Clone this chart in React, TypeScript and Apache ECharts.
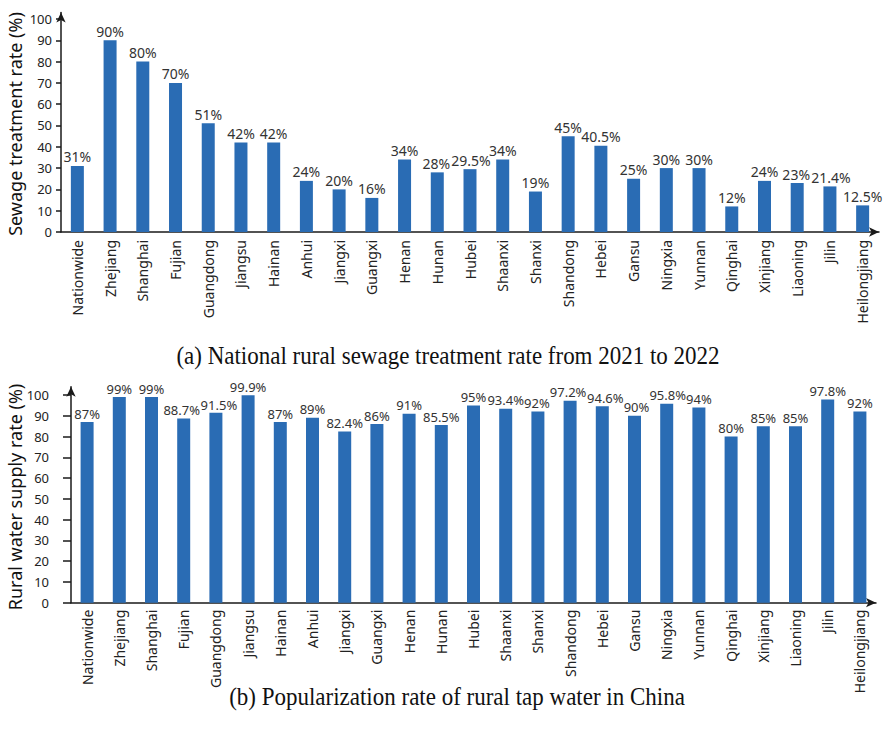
import React, { useEffect, useRef } from "react";
import * as echarts from "echarts";

// Provinces in display order (shared by both panels)
const categories = [
  "Nationwide", "Zhejiang", "Shanghai", "Fujian", "Guangdong", "Jiangsu", "Hainan",
  "Anhui", "Jiangxi", "Guangxi", "Henan", "Hunan", "Hubei", "Shaanxi", "Shanxi",
  "Shandong", "Hebei", "Gansu", "Ningxia", "Yunnan", "Qinghai", "Xinjiang",
  "Liaoning", "Jilin", "Heilongjiang",
];

// (a) rural sewage treatment rate, %
const sewageRates = [
  31, 90, 80, 70, 51, 42, 42, 24, 20, 16, 34, 28, 29.5, 34, 19, 45, 40.5, 25, 30, 30,
  12, 24, 23, 21.4, 12.5,
];

// (b) rural tap water supply rate, %
const tapWaterRates = [
  87, 99, 99, 88.7, 91.5, 99.9, 87, 89, 82.4, 86, 91, 85.5, 95, 93.4, 92, 97.2, 94.6,
  90, 95.8, 94, 80, 85, 85, 97.8, 92,
];

const yTickValues = [0, 10, 20, 30, 40, 50, 60, 70, 80, 90, 100];

const captionA = "(a) National rural sewage treatment rate from 2021 to 2022";
const captionB = "(b) Popularization rate of rural tap water in China";
const yNameA = "Sewage treatment rate (%)";
const yNameB = "Rural water supply rate (%)";

const SANS = "'Noto Sans', 'Open Sans', sans-serif";
const SERIF = "'Liberation Serif', 'Times New Roman', serif";
const BAR = "#2a6cb4";
const AXIS = "#1a1a1a";

// Small nudges for crowded value labels, keyed by category index
const labelNudgeA: Record<number, number[]> = {
  11: [-1, 0],
  12: [1, 0],
  22: [-1, 0],
  23: [1, 0],
};
const labelNudgeB: Record<number, number[]> = {
  3: [-2, 0],
  4: [3, 1],
  14: [-1, 0],
  15: [-2, 0],
  16: [3, 0],
  17: [2, 0],
  18: [1, 0],
};

function xAxisFor(gridIndex: number, margin: number) {
  return {
    type: "category",
    gridIndex,
    data: categories,
    boundaryGap: true,
    axisLine: {
      show: true,
      symbol: ["none", "arrow"],
      symbolSize: [7, 10],
      lineStyle: { color: AXIS, width: 1.5 },
    },
    axisTick: { show: false },
    axisLabel: {
      rotate: 90,
      interval: 0,
      margin,
      color: "#222",
      fontFamily: SANS,
      fontSize: 14,
    },
  };
}

function yAxisFor(gridIndex: number, max: number, tickLen: number, labelMargin: number) {
  return {
    type: "value",
    gridIndex,
    min: 0,
    max,
    splitLine: { show: false },
    axisLine: {
      show: true,
      symbol: ["none", "arrow"],
      symbolSize: [7, 10],
      lineStyle: { color: AXIS, width: 1.5 },
    },
    axisTick: {
      show: true,
      length: tickLen,
      customValues: yTickValues,
      lineStyle: { color: AXIS, width: 1.5 },
    },
    axisLabel: {
      customValues: yTickValues,
      margin: labelMargin,
      color: "#222",
      fontFamily: SANS,
      fontSize: 13,
    },
  };
}

function barSeries(
  index: number,
  values: number[],
  nudge: Record<number, number[]>,
  labelSize: number
) {
  return {
    type: "bar",
    xAxisIndex: index,
    yAxisIndex: index,
    data: values.map((v, i) =>
      nudge[i] ? { value: v, label: { offset: nudge[i] } } : v
    ),
    barWidth: 13,
    itemStyle: { color: BAR },
    label: {
      show: true,
      position: "top",
      distance: 2,
      color: "#333",
      fontFamily: SANS,
      fontSize: labelSize,
      formatter: (p: any) => `${p.value}%`,
    },
  };
}

export default function App() {
  const ref = useRef<HTMLDivElement>(null);

  useEffect(() => {
    if (!ref.current) return;
    const chart = echarts.init(ref.current, undefined, { renderer: "svg" });
    chart.setOption({
      animation: false,
      backgroundColor: "#ffffff",
      grid: [
        { left: 61, top: 12.6, width: 818, height: 219.4 },
        { left: 71, top: 386.7, width: 805, height: 216 },
      ],
      xAxis: [xAxisFor(0, 8), xAxisFor(1, 7)],
      yAxis: [yAxisFor(0, 103, 5, 9), yAxisFor(1, 104, 8, 22)],
      series: [
        barSeries(0, sewageRates, labelNudgeA, 14),
        barSeries(1, tapWaterRates, labelNudgeB, 13),
      ],
      graphic: [
        {
          type: "text",
          x: 15,
          y: 124,
          rotation: Math.PI / 2,
          style: {
            text: yNameA,
            fontFamily: SANS,
            fontSize: 18,
            fill: "#111",
            align: "center",
            verticalAlign: "middle",
          },
        },
        {
          type: "text",
          x: 15,
          y: 497,
          rotation: Math.PI / 2,
          style: {
            text: yNameB,
            fontFamily: SANS,
            fontSize: 18,
            fill: "#111",
            align: "center",
            verticalAlign: "middle",
          },
        },
        {
          type: "text",
          x: 448,
          y: 356,
          scaleY: 1.08,
          style: {
            text: captionA,
            fontFamily: SERIF,
            fontSize: 23,
            fill: "#111",
            align: "center",
            verticalAlign: "middle",
          },
        },
        {
          type: "text",
          x: 457,
          y: 697,
          scaleY: 1.08,
          style: {
            text: captionB,
            fontFamily: SERIF,
            fontSize: 23,
            fill: "#111",
            align: "center",
            verticalAlign: "middle",
          },
        },
      ],
    });
    return () => chart.dispose();
  }, []);

  return (
    <div
      ref={ref}
      style={{ position: "fixed", left: 0, top: 0, width: 890, height: 731, background: "#fff" }}
    />
  );
}
